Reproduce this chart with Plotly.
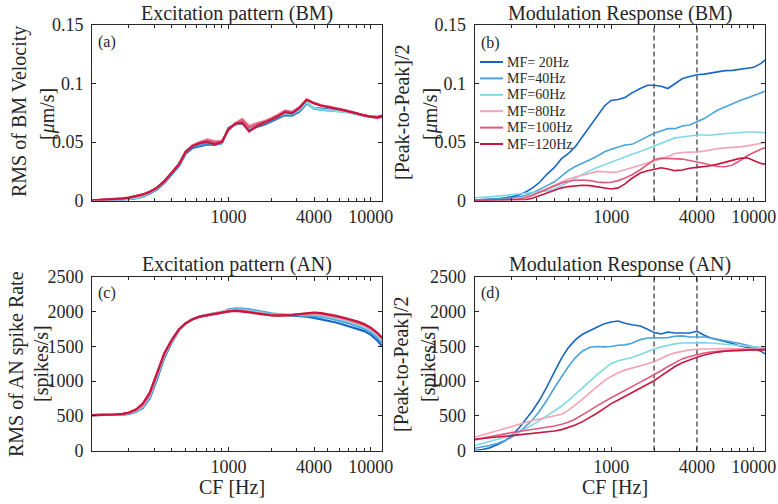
import plotly.graph_objects as go

# characteristic frequencies (Hz) the curves are sampled at
cf = [110, 125, 140, 160, 180, 200, 225, 250, 280, 315, 355, 400, 450, 500, 560, 630, 710, 800, 900, 1000,
      1120, 1250, 1400, 1600, 1800, 2000, 2240, 2500, 2800, 3150, 3550, 4000, 4500, 5000, 5600, 6300, 7100,
      8000, 9000, 10000, 11200, 12000]

mf_names = ['MF= 20Hz', 'MF=40Hz', 'MF=60Hz', 'MF=80Hz', 'MF=100Hz', 'MF=120Hz']
colors = ['#1866c4', '#4aa3dc', '#7fd8e4', '#f5a3b4', '#de5a7c', '#c8163f']

# (a) excitation pattern, BM velocity RMS [um/s]
a_mf20 = [0.0000, 0.0001, 0.0003, 0.0005, 0.0008, 0.0012, 0.0020, 0.0035, 0.0060, 0.0095, 0.0150, 0.0225, 0.0295, 0.0400,
          0.0450, 0.0465, 0.0480, 0.0475, 0.0490, 0.0620, 0.0655, 0.0660, 0.0605, 0.0630, 0.0650, 0.0675, 0.0700, 0.0730,
          0.0725, 0.0760, 0.0830, 0.0790, 0.0785, 0.0780, 0.0775, 0.0765, 0.0755, 0.0740, 0.0725, 0.0720, 0.0715, 0.0725]
a_mf40 = [0.0000, 0.0001, 0.0003, 0.0005, 0.0008, 0.0013, 0.0022, 0.0038, 0.0065, 0.0100, 0.0155, 0.0230, 0.0305, 0.0410,
          0.0460, 0.0475, 0.0490, 0.0480, 0.0490, 0.0615, 0.0650, 0.0665, 0.0615, 0.0640, 0.0660, 0.0685, 0.0710, 0.0740,
          0.0735, 0.0770, 0.0835, 0.0785, 0.0775, 0.0770, 0.0770, 0.0760, 0.0755, 0.0740, 0.0725, 0.0720, 0.0710, 0.0715]
a_mf60 = [0.0000, 0.0002, 0.0004, 0.0006, 0.0010, 0.0015, 0.0025, 0.0040, 0.0068, 0.0105, 0.0160, 0.0235, 0.0315, 0.0420,
          0.0470, 0.0490, 0.0505, 0.0490, 0.0495, 0.0605, 0.0650, 0.0670, 0.0620, 0.0645, 0.0665, 0.0690, 0.0715, 0.0745,
          0.0740, 0.0775, 0.0840, 0.0790, 0.0780, 0.0775, 0.0770, 0.0760, 0.0750, 0.0735, 0.0720, 0.0715, 0.0705, 0.0710]
a_mf80 = [0.0001, 0.0003, 0.0006, 0.0010, 0.0015, 0.0022, 0.0033, 0.0048, 0.0072, 0.0108, 0.0162, 0.0238, 0.0310, 0.0415,
          0.0470, 0.0500, 0.0525, 0.0510, 0.0505, 0.0600, 0.0660, 0.0700, 0.0640, 0.0665, 0.0680, 0.0705, 0.0735, 0.0770,
          0.0760, 0.0800, 0.0865, 0.0835, 0.0815, 0.0805, 0.0790, 0.0780, 0.0765, 0.0745, 0.0725, 0.0715, 0.0705, 0.0715]
a_mf100 = [0.0001, 0.0004, 0.0007, 0.0011, 0.0016, 0.0024, 0.0035, 0.0050, 0.0074, 0.0110, 0.0165, 0.0240, 0.0312, 0.0418,
           0.0470, 0.0498, 0.0515, 0.0500, 0.0505, 0.0605, 0.0660, 0.0690, 0.0625, 0.0655, 0.0675, 0.0700, 0.0728, 0.0765,
           0.0755, 0.0795, 0.0862, 0.0832, 0.0812, 0.0802, 0.0788, 0.0778, 0.0762, 0.0745, 0.0725, 0.0715, 0.0708, 0.0718]
a_mf120 = [0.0001, 0.0004, 0.0008, 0.0012, 0.0018, 0.0025, 0.0036, 0.0052, 0.0075, 0.0110, 0.0165, 0.0240, 0.0310, 0.0415,
           0.0465, 0.0490, 0.0500, 0.0480, 0.0500, 0.0610, 0.0655, 0.0665, 0.0590, 0.0640, 0.0665, 0.0690, 0.0720, 0.0755,
           0.0745, 0.0790, 0.0860, 0.0830, 0.0810, 0.0800, 0.0785, 0.0775, 0.0760, 0.0745, 0.0725, 0.0715, 0.0710, 0.0720]

# (b) modulation response, BM [peak-to-peak]/2 [um/s]
b_mf20 = [0.0003, 0.0006, 0.0008, 0.0014, 0.0023, 0.0031, 0.0048, 0.0071, 0.0105, 0.0156, 0.0226, 0.0283, 0.0360, 0.0400,
          0.0460, 0.0546, 0.0630, 0.0720, 0.0810, 0.0855, 0.0863, 0.0880, 0.0920, 0.0957, 0.0985, 0.0985, 0.0977, 0.0957,
          0.1000, 0.1040, 0.1060, 0.1075, 0.1080, 0.1090, 0.1100, 0.1110, 0.1112, 0.1124, 0.1130, 0.1138, 0.1170, 0.1200]
b_mf40 = [0.0003, 0.0006, 0.0008, 0.0011, 0.0014, 0.0020, 0.0031, 0.0042, 0.0065, 0.0093, 0.0127, 0.0160, 0.0210, 0.0255,
          0.0290, 0.0317, 0.0348, 0.0380, 0.0416, 0.0439, 0.0460, 0.0475, 0.0480, 0.0518, 0.0550, 0.0575, 0.0594, 0.0614,
          0.0614, 0.0637, 0.0645, 0.0670, 0.0700, 0.0736, 0.0773, 0.0800, 0.0830, 0.0855, 0.0877, 0.0897, 0.0925, 0.0934]
b_mf60 = [0.0023, 0.0025, 0.0031, 0.0037, 0.0045, 0.0051, 0.0057, 0.0062, 0.0068, 0.0074, 0.0082, 0.0099, 0.0127, 0.0156,
          0.0190, 0.0224, 0.0255, 0.0283, 0.0308, 0.0331, 0.0354, 0.0374, 0.0396, 0.0419, 0.0444, 0.0467, 0.0490, 0.0515,
          0.0535, 0.0543, 0.0552, 0.0560, 0.0560, 0.0558, 0.0566, 0.0572, 0.0580, 0.0586, 0.0586, 0.0586, 0.0583, 0.0580]
b_mf80 = [0.0000, 0.0000, 0.0001, 0.0003, 0.0006, 0.0008, 0.0017, 0.0028, 0.0048, 0.0076, 0.0105, 0.0136, 0.0164, 0.0184,
          0.0200, 0.0218, 0.0235, 0.0249, 0.0246, 0.0240, 0.0246, 0.0263, 0.0283, 0.0303, 0.0320, 0.0334, 0.0354, 0.0376,
          0.0402, 0.0410, 0.0410, 0.0416, 0.0422, 0.0433, 0.0444, 0.0450, 0.0453, 0.0458, 0.0467, 0.0475, 0.0487, 0.0495]
b_mf100 = [0.0000, 0.0001, 0.0002, 0.0003, 0.0005, 0.0006, 0.0011, 0.0023, 0.0042, 0.0071, 0.0099, 0.0127, 0.0150, 0.0164,
           0.0173, 0.0175, 0.0170, 0.0158, 0.0153, 0.0156, 0.0170, 0.0192, 0.0220, 0.0263, 0.0311, 0.0348, 0.0362, 0.0360,
           0.0354, 0.0354, 0.0342, 0.0331, 0.0317, 0.0303, 0.0291, 0.0289, 0.0303, 0.0340, 0.0382, 0.0410, 0.0433, 0.0453]
b_mf120 = [0.0000, 0.0000, 0.0000, 0.0001, 0.0001, 0.0002, 0.0003, 0.0006, 0.0020, 0.0042, 0.0065, 0.0088, 0.0108, 0.0119,
           0.0127, 0.0130, 0.0127, 0.0119, 0.0108, 0.0099, 0.0108, 0.0142, 0.0190, 0.0235, 0.0255, 0.0269, 0.0280, 0.0269,
           0.0255, 0.0260, 0.0275, 0.0283, 0.0289, 0.0297, 0.0311, 0.0325, 0.0340, 0.0360, 0.0365, 0.0340, 0.0317, 0.0311]

# (c) excitation pattern, AN spike rate RMS [spikes/s]
c_mf20 = [510, 510, 511, 513, 518, 528, 557, 615, 755, 1030, 1340, 1560, 1735, 1830, 1890, 1930, 1955, 1975, 1990, 2030,
          2045, 2040, 2030, 2005, 1985, 1970, 1960, 1955, 1948, 1938, 1930, 1910, 1890, 1870, 1848, 1820, 1790, 1760,
          1720, 1670, 1580, 1500]
c_mf40 = [510, 510, 511, 514, 520, 532, 563, 625, 770, 1050, 1360, 1572, 1737, 1830, 1890, 1932, 1957, 1975, 1995, 2025,
          2040, 2045, 2035, 2010, 1990, 1975, 1965, 1960, 1955, 1952, 1948, 1945, 1930, 1910, 1888, 1860, 1830, 1795,
          1755, 1705, 1625, 1550]
c_mf60 = [510, 510, 512, 515, 522, 536, 570, 635, 785, 1070, 1375, 1580, 1740, 1830, 1890, 1932, 1955, 1972, 1992, 2020,
          2030, 2028, 2015, 1993, 1975, 1962, 1955, 1953, 1955, 1958, 1960, 1962, 1950, 1932, 1912, 1885, 1855, 1822,
          1780, 1732, 1655, 1580]
c_mf80 = [510, 510, 512, 516, 524, 540, 578, 648, 800, 1085, 1385, 1585, 1742, 1830, 1890, 1930, 1952, 1970, 1990, 2015,
          2022, 2018, 2003, 1983, 1967, 1955, 1950, 1950, 1954, 1962, 1967, 1976, 1965, 1948, 1928, 1902, 1873, 1840,
          1800, 1752, 1677, 1608]
c_mf100 = [510, 510, 513, 517, 526, 543, 585, 660, 815, 1100, 1395, 1590, 1745, 1832, 1890, 1930, 1950, 1968, 1988, 2010,
           2018, 2012, 1997, 1978, 1962, 1952, 1947, 1948, 1953, 1963, 1970, 1982, 1972, 1955, 1935, 1910, 1882, 1850,
           1810, 1762, 1685, 1618]
c_mf120 = [510, 510, 514, 519, 529, 548, 595, 676, 833, 1119, 1405, 1595, 1748, 1833, 1890, 1929, 1948, 1967, 1985, 2005,
           2012, 2005, 1990, 1971, 1957, 1948, 1943, 1945, 1952, 1965, 1975, 1988, 1980, 1965, 1945, 1920, 1895, 1862,
           1822, 1770, 1690, 1628]

# (d) modulation response, AN [peak-to-peak]/2 [spikes/s]
d_mf20 = [0, 14, 38, 85, 140, 215, 320, 440, 569, 727, 919, 1134, 1335, 1479, 1593, 1675, 1732, 1780, 1828, 1852, 1866,
          1833, 1813, 1794, 1747, 1699, 1680, 1708, 1694, 1699, 1694, 1718, 1660, 1622, 1598, 1565, 1541, 1507, 1488,
          1469, 1431, 1392]
d_mf40 = [33, 48, 72, 105, 144, 191, 263, 345, 440, 569, 727, 904, 1072, 1206, 1335, 1435, 1488, 1498, 1493, 1498, 1517,
          1522, 1546, 1598, 1622, 1627, 1627, 1627, 1646, 1651, 1636, 1641, 1636, 1622, 1603, 1589, 1565, 1541, 1517,
          1493, 1479, 1469]
d_mf60 = [72, 100, 129, 163, 191, 225, 263, 311, 368, 431, 502, 569, 641, 718, 813, 909, 1000, 1096, 1182, 1254, 1292,
          1311, 1340, 1383, 1431, 1464, 1493, 1517, 1536, 1550, 1555, 1555, 1555, 1550, 1541, 1531, 1522, 1512, 1502,
          1493, 1483, 1479]
d_mf80 = [191, 225, 258, 292, 321, 349, 378, 407, 431, 455, 478, 498, 522, 579, 656, 742, 833, 924, 1010, 1067, 1120,
          1158, 1187, 1215, 1244, 1278, 1325, 1373, 1407, 1431, 1450, 1459, 1464, 1469, 1469, 1469, 1469, 1469, 1464,
          1464, 1459, 1459]
d_mf100 = [153, 177, 201, 225, 244, 258, 273, 287, 301, 316, 335, 354, 378, 407, 455, 512, 579, 646, 713, 761, 815, 870,
           925, 985, 1040, 1090, 1150, 1210, 1270, 1320, 1355, 1385, 1405, 1420, 1432, 1440, 1446, 1450, 1452, 1455,
           1457, 1458]
d_mf120 = [163, 177, 187, 196, 206, 215, 225, 234, 244, 254, 268, 282, 301, 330, 368, 416, 474, 540, 610, 675, 728, 780,
           835, 900, 955, 1005, 1075, 1145, 1210, 1265, 1310, 1345, 1375, 1400, 1418, 1430, 1438, 1443, 1447, 1450,
           1450, 1450]

band_edges = [2000, 4000]  # dashed markers in (b) and (d)

x_ticks = [1000, 4000, 10000]
x_minor = [200, 300, 400, 500, 600, 700, 800, 900, 2000, 3000, 5000, 6000, 7000, 8000, 9000]
bm_ticks = [0, 0.05, 0.1, 0.15]
bm_ticktext = ['0', '0.05', '0.1', '0.15']
an_ticks = [0, 500, 1000, 1500, 2000, 2500]

W, H = 778, 504
FONT = 'Liberation Serif'
INK = '#262626'


def fx(p):
    return p / W


def fy(p):
    return 1 - p / H


panels = [
    ([a_mf20, a_mf40, a_mf60, a_mf80, a_mf100, a_mf120], 2.2, False),
    ([b_mf20, b_mf40, b_mf60, b_mf80, b_mf100, b_mf120], 1.6, True),
    ([c_mf20, c_mf40, c_mf60, c_mf80, c_mf100, c_mf120], 2.2, False),
    ([d_mf20, d_mf40, d_mf60, d_mf80, d_mf100, d_mf120], 1.6, True),
]

fig = go.Figure()
for i, (series, width, dashed) in enumerate(panels):
    xa = 'x' if i == 0 else f'x{i + 1}'
    ya = 'y' if i == 0 else f'y{i + 1}'
    top = 0.15 if i < 2 else 2500
    if dashed:
        for edge in band_edges:
            fig.add_trace(go.Scatter(x=[edge, edge], y=[0, top], mode='lines', xaxis=xa, yaxis=ya,
                                     line=dict(color='#303030', width=1.2, dash='5px,3px'), showlegend=False))
    for vals, name, col in zip(series, mf_names, colors):
        fig.add_trace(go.Scatter(x=cf, y=vals, mode='lines', name=name, xaxis=xa, yaxis=ya,
                                 line=dict(color=col, width=width), showlegend=False))

# panel boxes in pixels: left, right, top, bottom
boxes = [(92, 382, 25, 200.5), (474.5, 765, 25, 200.5), (92, 382, 277, 450.5), (474.5, 765, 277, 450.5)]

axis_common = dict(showline=True, linecolor=INK, linewidth=1, mirror='ticks', ticks='inside', tickcolor=INK,
                   ticklen=4, showgrid=False, zeroline=False, automargin=False,
                   tickfont=dict(family=FONT, size=18, color=INK))
layout = {}
for i, (l, r, t, b) in enumerate(boxes):
    sx = 'xaxis' if i == 0 else f'xaxis{i + 1}'
    sy = 'yaxis' if i == 0 else f'yaxis{i + 1}'
    ya = 'y' if i == 0 else f'y{i + 1}'
    xa = 'x' if i == 0 else f'x{i + 1}'
    layout[sx] = dict(axis_common, domain=[fx(l), fx(r)], anchor=ya, type='log',
                      range=[2.0414, 4.0792], tickvals=x_ticks, ticktext=[str(v) for v in x_ticks],
                      minor=dict(tickvals=x_minor, ticks='inside', ticklen=3, tickcolor=INK))
    if i < 2:
        ydict = dict(range=[0, 0.15], tickvals=bm_ticks, ticktext=bm_ticktext)
    else:
        ydict = dict(range=[0, 2500], tickvals=an_ticks)
    layout[sy] = dict(axis_common, domain=[fy(b), fy(t)], anchor=xa, ticklabelstandoff=4, **ydict)

ann = []


def text(s, x, y, size, angle=0):
    ann.append(dict(text=s, x=fx(x), y=fy(y), xref='paper', yref='paper', showarrow=False,
                    xanchor='center', yanchor='middle', textangle=angle,
                    font=dict(family=FONT, size=size, color=INK)))


text('Excitation pattern (BM)', 237, 13, 20)
text('Modulation Response (BM)', 620, 13, 20)
text('Excitation pattern (AN)', 237, 264, 20)
text('Modulation Response (AN)', 620, 264, 20)
text('(a)', 107, 42, 16)
text('(b)', 491, 43, 16)
text('(c)', 107, 293, 16)
text('(d)', 491, 293, 16)
text('RMS of BM Velocity', 19, 112, 20, -90)
text('[<i>μ</i>m/s]', 48, 114, 20, -90)
text('[Peak-to-Peak]/2', 402, 112, 20, -90)
text('[<i>μ</i>m/s]', 431, 114, 20, -90)
text('RMS of AN spike Rate', 16, 364, 20, -90)
text('[spikes/s]', 41, 364, 20, -90)
text('[Peak-to-Peak]/2', 401, 364, 20, -90)
text('[spikes/s]', 428, 364, 20, -90)
text('CF [Hz]', 232, 487, 20)
text('CF [Hz]', 615, 487, 20)

# hand-drawn legend for panel (b)
shapes = []
for k, (name, col) in enumerate(zip(mf_names, colors)):
    yy = 62 + k * 16.4
    shapes.append(dict(type='line', xref='paper', yref='paper', x0=fx(480), x1=fx(503), y0=fy(yy), y1=fy(yy),
                       line=dict(color=col, width=2)))
    ann.append(dict(text=name, x=fx(505), y=fy(yy), xref='paper', yref='paper', showarrow=False,
                    xanchor='left', yanchor='middle', font=dict(family=FONT, size=14, color=INK)))

fig.update_layout(template='none', width=W, height=H, margin=dict(l=0, r=0, t=0, b=0, pad=0),
                  paper_bgcolor='white', plot_bgcolor='white', showlegend=False, hovermode=False,
                  annotations=ann, shapes=shapes, **layout)

# drop the page's default body margin so the figure sits at the window's corner
fig.write_html("out.html", config={'displayModeBar': False},
               post_script="document.body.style.margin='0';document.body.style.padding='0';")
